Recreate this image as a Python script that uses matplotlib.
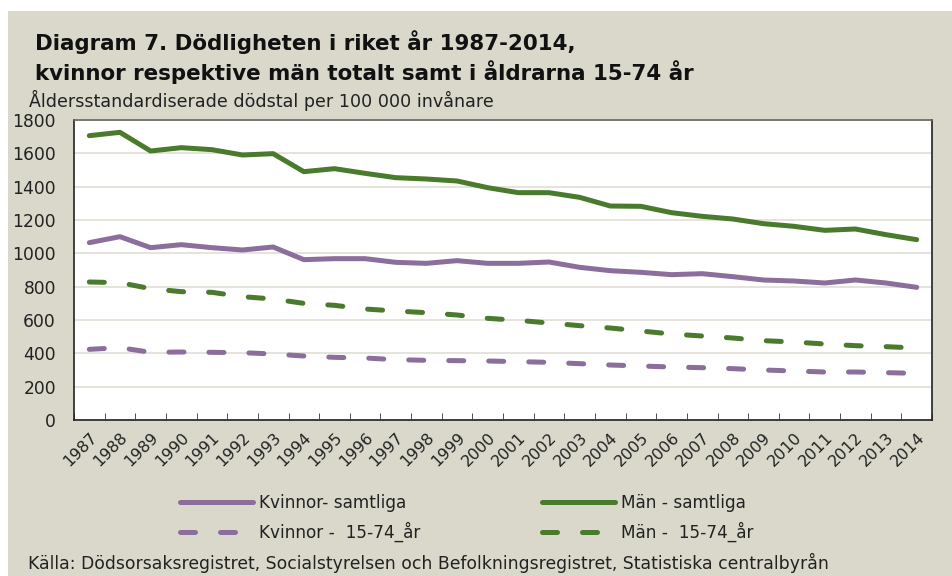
import numpy as np
import matplotlib
matplotlib.use('Agg')
import matplotlib.pyplot as plt
from matplotlib.patches import Rectangle

years = list(range(1987, 2015))

# Åldersstandardiserade dödstal per 100 000
kvinnor_samtliga = [1064, 1100, 1034, 1052, 1034, 1020, 1038, 962, 968, 968,
                    946, 940, 956, 940, 940, 948, 916, 896, 886, 872,
                    878, 860, 840, 834, 822, 840, 822, 796]
man_samtliga = [1706, 1726, 1614, 1634, 1622, 1590, 1598, 1490, 1508, 1480,
                1454, 1446, 1434, 1394, 1364, 1364, 1336, 1284, 1282, 1244,
                1222, 1206, 1178, 1162, 1138, 1146, 1112, 1082]
kvinnor_1574 = [424, 434, 406, 408, 406, 404, 396, 384, 376, 372,
                362, 358, 356, 354, 350, 346, 338, 330, 324, 318,
                314, 308, 300, 294, 288, 288, 284, 280]
man_1574 = [828, 824, 788, 770, 766, 740, 726, 700, 688, 666,
            654, 644, 630, 610, 598, 582, 566, 552, 534, 516,
            504, 492, 476, 468, 456, 446, 440, 432]

yticks = [0, 200, 400, 600, 800, 1000, 1200, 1400, 1600, 1800]

purple = '#8b6e9b'
green = '#4a7a2b'
bg = '#d9d8cb'

plt.rcParams['font.family'] = ['DejaVu Sans']
plt.rcParams['lines.scale_dashes'] = False

W, H = 952, 576
fig = plt.figure(figsize=(W / 100, H / 100), dpi=100, facecolor='white')
fig.patches.append(Rectangle((8 / W, 0), 1, (H - 11) / H, transform=fig.transFigure,
                             facecolor=bg, edgecolor='none', zorder=-10))

ax = fig.add_axes([74 / W, 1 - 420 / H, (932 - 74) / W, 300 / H])
ax.set_facecolor('white')

x = np.arange(len(years))
lw = 3.6
dash = (0, (10.8, 18))
ax.plot(x, kvinnor_samtliga, color=purple, lw=lw, solid_capstyle='round',
        label='Kvinnor- samtliga')
ax.plot(x, kvinnor_1574, color=purple, lw=lw, ls=dash, dash_capstyle='round',
        label='Kvinnor -  15-74_år')
ax.plot(x, man_samtliga, color=green, lw=lw, solid_capstyle='round',
        label='Män - samtliga')
ax.plot(x, man_1574, color=green, lw=lw, ls=dash, dash_capstyle='round',
        label='Män -  15-74_år')

ax.set_xlim(-0.5, len(years) - 0.5)
ax.set_ylim(0, 1800)
ax.set_yticks(yticks)
ax.set_yticklabels([str(v) for v in yticks], fontsize=12.3)
ax.tick_params(axis='y', length=0, pad=13, colors='#222222')
ax.yaxis.grid(True, color='#e4e1da', lw=1.3)
ax.set_axisbelow(True)

ax.set_xticks(x)
ax.set_xticklabels([str(y) for y in years], rotation=45, ha='right',
                   rotation_mode='anchor', fontsize=11.5)
ax.tick_params(axis='x', length=0, pad=7, colors='#222222')
ax.set_xticks(np.arange(len(years) + 1) - 0.5, minor=True)
ax.tick_params(axis='x', which='minor', direction='in', length=5, color='#333333')

for side in ['left', 'bottom', 'right']:
    ax.spines[side].set_color('#222222')
    ax.spines[side].set_linewidth(1.2)
ax.spines['top'].set_color('#666666')
ax.spines['top'].set_linewidth(1.2)

fig.text(35 / W, 1 - 42 / H, 'Diagram 7. Dödligheten i riket år 1987-2014,',
         fontsize=15.4, fontweight='bold', va='center', color='#111111')
fig.text(35 / W, 1 - 72 / H, 'kvinnor respektive män totalt samt i åldrarna 15-74 år',
         fontsize=15.4, fontweight='bold', va='center', color='#111111')
fig.text(29 / W, 1 - 100 / H, 'Åldersstandardiserade dödstal per 100 000 invånare',
         fontsize=12.6, va='center', color='#222222')

handles, labels = ax.get_legend_handles_labels()
leg = fig.legend(handles, labels, ncol=2, loc='center', bbox_to_anchor=(467 / W, 1 - 518 / H),
                 frameon=False, fontsize=12.2, handlelength=4.3, columnspacing=7.2,
                 handletextpad=0.35, labelspacing=0.6)
for t in leg.get_texts():
    t.set_color('#222222')

fig.text(28 / W, 1 - 563 / H,
         'Källa: Dödsorsaksregistret, Socialstyrelsen och Befolkningsregistret, Statistiska centralbyrån',
         fontsize=12.4, va='center', color='#222222')

fig.savefig('out.png', dpi=100, facecolor=fig.get_facecolor())
